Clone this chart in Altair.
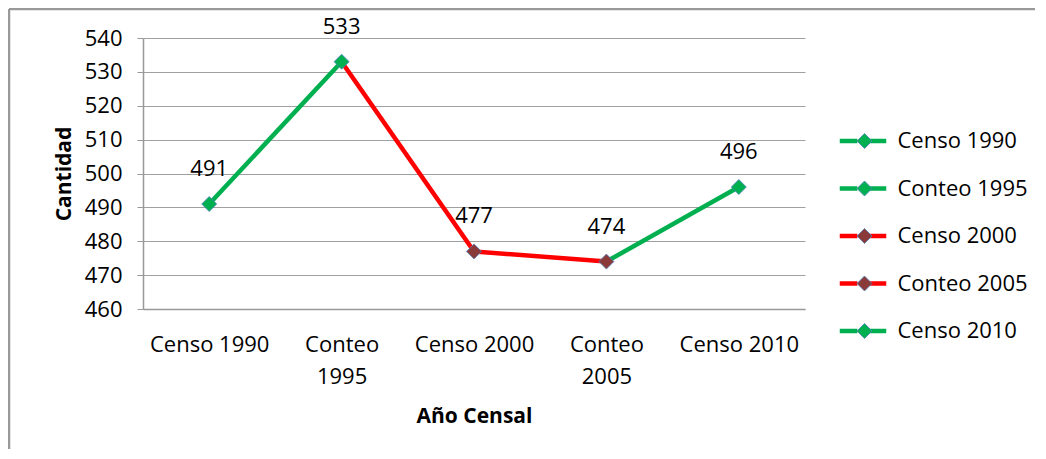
import altair as alt
import pandas as pd

# ---- data ----
categories = ["Censo 1990", "Conteo 1995", "Censo 2000", "Conteo 2005", "Censo 2010"]
values = [491, 533, 477, 474, 496]
line_colors = ["#00B050", "#00B050", "#FF0000", "#FF0000", "#00B050"]
marker_colors = ["#00B050", "#00B050", "#8B3A3A", "#8B3A3A", "#00B050"]
y_ticks = [460, 470, 480, 490, 500, 510, 520, 530, 540]

FONT = "Open Sans"
W, H = 662, 271

points = pd.DataFrame({"cat": categories, "value": values})
seg_rows = []
for i in range(1, len(categories)):
    for j in (i - 1, i):
        seg_rows.append({"cat": categories[j], "value": values[j], "seg": categories[i]})
segs = pd.DataFrame(seg_rows)

x_enc = alt.X(
    "cat:N",
    sort=categories,
    scale=alt.Scale(domain=categories, paddingInner=0, paddingOuter=0),
    title="Año Censal",
    axis=alt.Axis(
        ticks=False,
        labelAngle=0,
        labelFont=FONT,
        labelFontSize=22,
        labelColor="#000000",
        labelPadding=25,
        labelLineHeight=32,
        labelExpr="indexof(datum.label, 'Conteo') == 0 ? split(datum.label, ' ') : datum.label",
        domainColor="#999999",
        domainWidth=1.5,
        titleFont=FONT,
        titleFontSize=21,
        titleFontWeight="bold",
        titleColor="#000000",
        titlePadding=18,
    ),
)
y_enc = alt.Y(
    "value:Q",
    scale=alt.Scale(domain=[460, 540], nice=False, zero=False),
    title="Cantidad",
    axis=alt.Axis(
        values=y_ticks,
        tickSize=6,
        tickColor="#999999",
        labelFont=FONT,
        labelFontSize=22,
        labelColor="#000000",
        labelPadding=15,
        domainColor="#999999",
        domainWidth=1.5,
        gridColor="#a0a0a0",
        gridWidth=1.2,
        titleFont=FONT,
        titleFontSize=21,
        titleFontWeight="bold",
        titleColor="#000000",
        titlePadding=10,
    ),
)

lines = alt.Chart(segs).mark_line(strokeWidth=4.5, strokeCap="butt").encode(
    x=x_enc,
    y=y_enc,
    stroke=alt.Stroke(
        "seg:N",
        scale=alt.Scale(domain=categories, range=line_colors),
        legend=alt.Legend(
            title=None,
            orient="none",
            legendX=709,
            legendY=92,
            padding=0,
            symbolType="M-3.1,0H-0.75M0.75,0H3.1",
            symbolSize=225,
            symbolStrokeWidth=4.5,
            labelOpacity=0,
            labelFont=FONT,
            labelFontSize=22,
            labelOffset=22,
            rowPadding=25.5,
        ),
    ),
)

markers = alt.Chart(points).mark_point(
    shape="diamond", filled=True, size=225, stroke="#4F81BD", strokeWidth=0.8, opacity=1
).encode(
    x=x_enc,
    y=y_enc,
    fill=alt.Fill(
        "cat:N",
        sort=categories,
        scale=alt.Scale(range=marker_colors),
        legend=alt.Legend(
            title=None,
            orient="none",
            legendX=710.5,
            legendY=92,
            padding=0,
            symbolType="diamond",
            symbolSize=225,
            symbolStrokeColor="#4F81BD",
            symbolStrokeWidth=0.8,
            symbolOpacity=1,
            labelFont=FONT,
            labelFontSize=22,
            labelColor="#000000",
            labelOffset=22,
            rowPadding=25.5,
        ),
    ),
)

labels = alt.Chart(points).mark_text(
    dy=-35, font=FONT, fontSize=22, color="#000000"
).encode(x=x_enc, y=y_enc, text=alt.Text("value:Q"))

dummy = pd.DataFrame({"k": [0]})
border_left = alt.Chart(dummy).mark_rule(color="#999999", strokeWidth=2.5).encode(
    x=alt.value(-134), y=alt.value(-29), y2=alt.value(H + 150)
)
border_top = alt.Chart(dummy).mark_rule(color="#999999", strokeWidth=2.5).encode(
    x=alt.value(-134), x2=alt.value(W + 260), y=alt.value(-29)
)

chart = (
    alt.layer(border_left, border_top, lines, markers, labels)
    .properties(
        width=W,
        height=H,
        autosize=alt.AutoSizeParams(type="none"),
        padding={"left": 135, "top": 30, "right": 230, "bottom": 140},
        background="#ffffff",
    )
    .configure_view(stroke=None)
)

chart.save("out.html", embed_options={"renderer": "svg", "actions": False})
